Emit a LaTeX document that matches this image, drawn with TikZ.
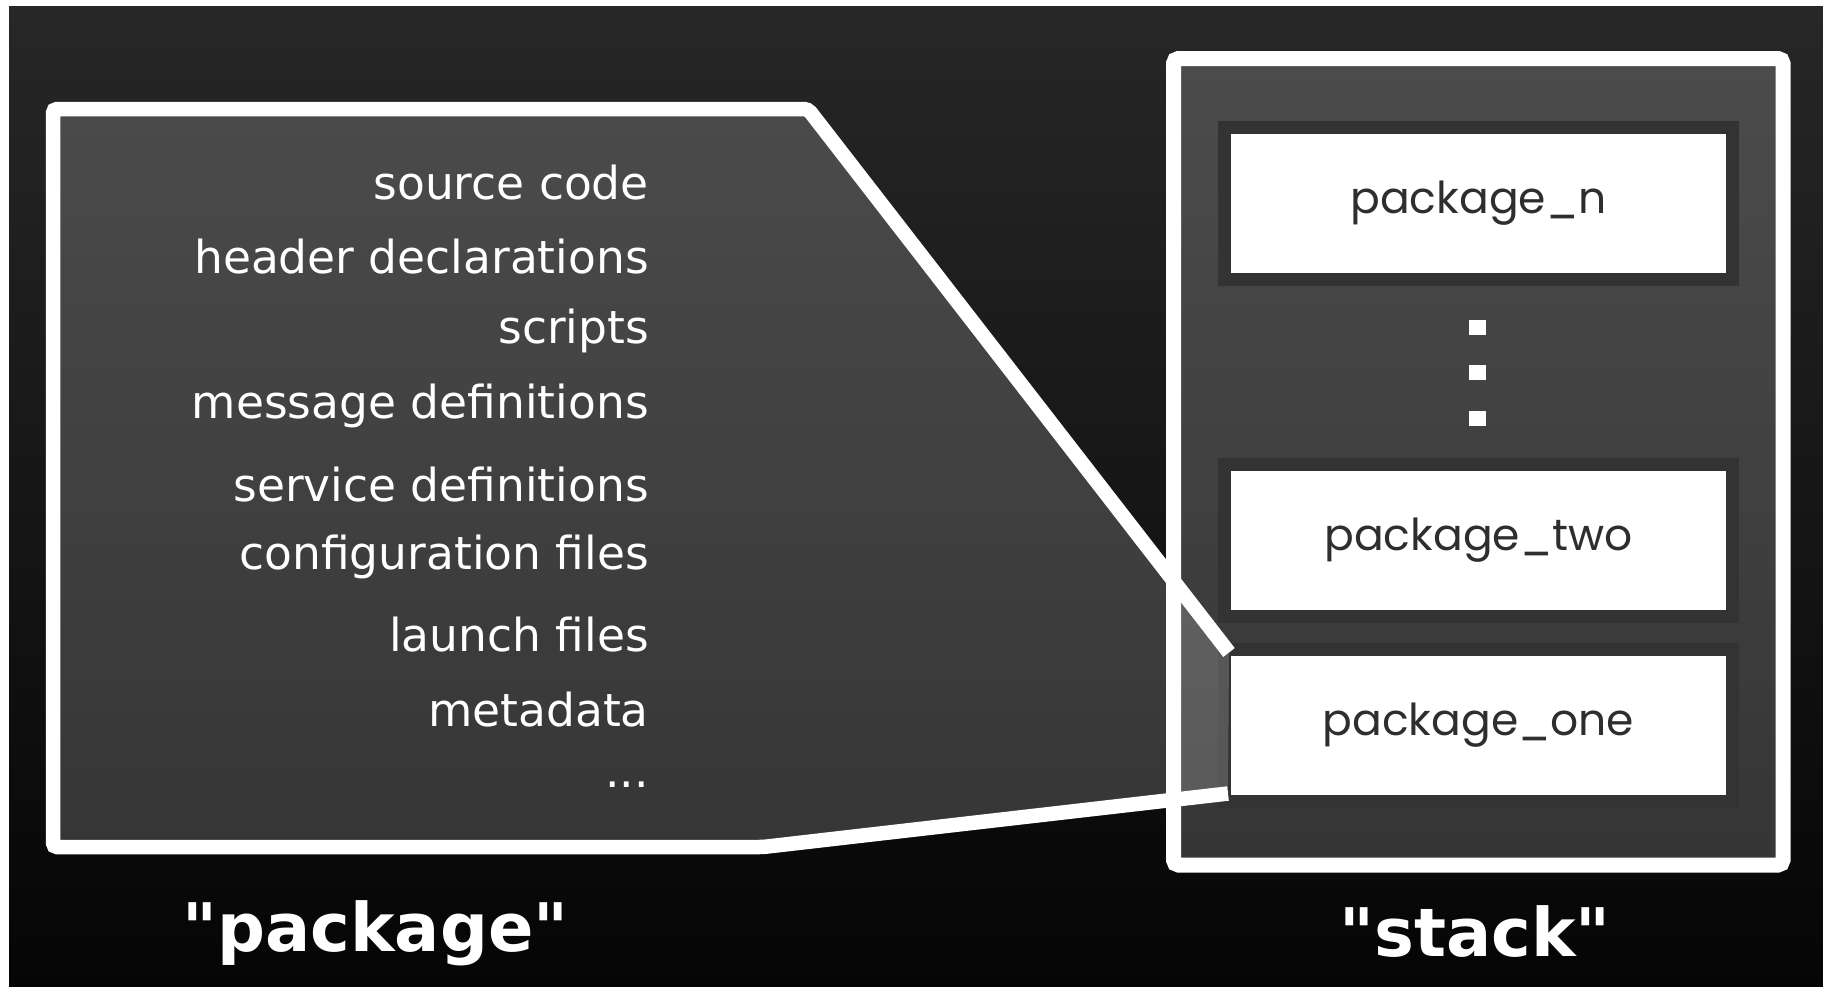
\documentclass[tikz,border=0pt]{standalone}
\usepackage{fontspec}
\setmainfont{DejaVu Sans}
\newfontfamily\boxfont{Poppins}
\usetikzlibrary{calc}
\definecolor{framegray}{HTML}{333333}
\definecolor{labelgray}{HTML}{2E2E2E}
\tikzstyle{item} = [anchor=base east, inner sep=0pt, text=white, font=\fontsize{45.5}{55}\selectfont]
\tikzstyle{title} = [anchor=base, inner sep=0pt, text=white, font=\bfseries\fontsize{67}{80}\selectfont]
\tikzstyle{pkg} = [rectangle, draw=framegray, line width=13pt, fill=white, minimum width=508pt, minimum height=152pt, text=labelgray, font=\boxfont\fontsize{44}{54}\selectfont]
\tikzstyle{stackbox} = [rectangle, draw=white, line width=15pt, fill=white, fill opacity=0.18, rounded corners=5pt, minimum width=609.5pt, minimum height=806.5pt]
\tikzstyle{dot} = [rectangle, fill=white, inner sep=0pt, minimum width=17pt, minimum height=15pt]
\tikzstyle{zoomfill} = [fill=white, fill opacity=0.18]
\tikzstyle{zoomline} = [draw=white, line width=14.5pt, rounded corners=4pt]

\begin{document}
\begin{tikzpicture}[x=1pt, y=-1pt]
    \useasboundingbox (0,0) rectangle (1823,986);
    \fill[white] (0,0) rectangle (1823,986);
    \shade[top color={rgb,255:red,39;green,39;blue,39}, bottom color={rgb,255:red,5;green,5;blue,5}] (9,6) rectangle (1823,986);

    \node (stack) [stackbox] at (1478.25,461.75) {};
    \node (pkgn) [pkg] at (1478.5,203.5) {package\_n};
    \node (pkgtwo) [pkg] at (1478.5,540.5) {package\_two};
    \node (pkgone) [pkg] at (1478.5,725) {package\_one};
    \foreach \y [count=\i] in {327,372,418}
        \node (dot\i) [dot] at (1477,\y) {};

    \coordinate (zoomtop) at ($(pkgone.north west)+(11,10)$);
    \coordinate (zoombot) at ($(pkgone.south west)+(10,-14)$);
    \fill[zoomfill] (zoomtop) -- (808,109) -- (53,109) -- (53,847) -- (763,847) -- (zoombot) -- cycle;
    \draw[zoomline] (zoomtop) -- (808,109) -- (53,109) -- (53,847) -- (763,847) -- (zoombot);

    \node (src) [item] at (649,199) {source code};
    \node (hdr) [item] at (649,273) {header declarations};
    \node (scr) [item] at (649,343) {scripts};
    \node (msg) [item] at (649,418) {message definitions};
    \node (srv) [item] at (649,501) {service definitions};
    \node (cfg) [item] at (649,569) {configuration files};
    \node (lnch) [item] at (649,651) {launch files};
    \node (meta) [item] at (649,726) {metadata};
    \node (more) [item] at (649,787) {...};

    \node (pkgtitle) [title] at (375.5,951) {\textquotedbl package\textquotedbl};
    \node (stacktitle) [title] at (1475,956) {\textquotedbl stack\textquotedbl};
\end{tikzpicture}
\end{document}
